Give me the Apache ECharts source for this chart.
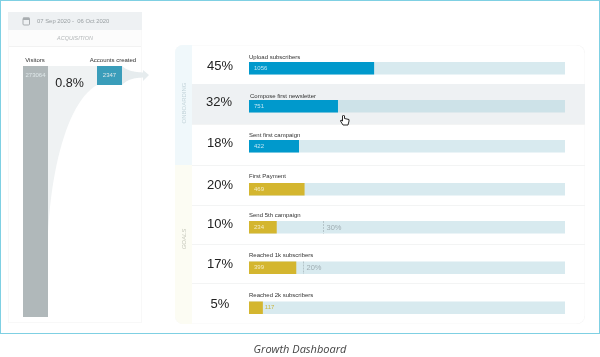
<!DOCTYPE html>
<html>
<head>
<meta charset="utf-8">
<style>html,body{margin:0;padding:0;background:#fff}#chart{width:600px;height:357px}</style>
<script src="https://cdn.jsdelivr.net/npm/echarts@6/dist/echarts.min.js"></script>
</head>
<body>
<div id="chart"></div>
<script>
// funnel on the left
const funnelNames = ['Visitors', 'Accounts created'];
const funnelValues = [273064, 2347];
const conversion = '0.8%';

// rows on the right
const stepNames = ['Upload subscribers', 'Compose first newsletter', 'Sent first campaign', 'First Payment', 'Send 5th campaign', 'Reached 1k subscribers', 'Reached 2k subscribers'];
const stepValues = [1056, 751, 422, 469, 234, 399, 117];
const stepPercents = ['45%', '32%', '18%', '20%', '10%', '17%', '5%'];
const stepTargets = [null, null, null, null, '30%', '20%', null];
const trackMax = 2667;

// layout
const barTops = [62, 100, 140, 183, 221, 261.5, 301.5];
const nameTops = [57, 96, 135, 176, 215, 255, 295];
const percentTops = [66, 102, 143, 185, 224, 264, 304];
const rowLines = [124, 165, 205, 244, 283];
const colorBlue = '#0099cc';
const colorGold = '#d4b62f';

const font = 'Liberation Sans, Arial, sans-serif';
const grids = [], xAxes = [], yAxes = [], series = [], graphics = [];

function addBar(left, top, width, height, value, color, extra) {
  const i = grids.length;
  grids.push({left: left, top: top, width: width, height: height});
  xAxes.push(Object.assign({gridIndex: i}, extra.xAxis));
  yAxes.push(Object.assign({gridIndex: i}, extra.yAxis));
  series.push(Object.assign({
    type: 'bar', xAxisIndex: i, yAxisIndex: i, data: [value], silent: true,
    barWidth: '100%', itemStyle: {color: color}
  }, extra.series));
}

function rect(x, y, w, h, fill, r, z) {
  graphics.push({type: 'rect', z: z || 0, shape: {x: x, y: y, width: w, height: h, r: r || 0}, style: {fill: fill}});
}
function line(x1, y1, x2, y2, stroke, dash) {
  graphics.push({type: 'line', z: 1, shape: {x1: x1, y1: y1, x2: x2, y2: y2}, style: {stroke: stroke, lineWidth: 1, lineDash: dash}});
}
function text(x, y, str, size, fill, opt) {
  graphics.push({type: 'text', z: 5, x: x, y: y, rotation: (opt && opt.rotation) || 0, originX: 0, originY: 0, style: Object.assign({
    text: str, fontSize: size, fill: fill, fontFamily: font, textAlign: 'left', textVerticalAlign: 'middle'
  }, opt && opt.style)});
}
function poly(points, style, z) {
  graphics.push({type: 'polygon', z: z || 1, shape: {points: points}, style: style});
}
// points along a cubic curve, for the funnel outlines
function curve(p0, p1, p2, p3) {
  const pts = [];
  for (let k = 0; k <= 24; k++) {
    const t = k / 24, u = 1 - t;
    pts.push([
      u * u * u * p0[0] + 3 * u * u * t * p1[0] + 3 * u * t * t * p2[0] + t * t * t * p3[0],
      u * u * u * p0[1] + 3 * u * u * t * p1[1] + 3 * u * t * t * p2[1] + t * t * t * p3[1]
    ]);
  }
  return pts;
}

// frame
rect(0, 0, 600, 334, '#7fd0e3');
rect(1, 1, 598, 332, '#ffffff');

// left panel
rect(8, 12, 134, 311, '#f8f8f8');
rect(9, 13, 132, 309, '#ffffff');
rect(8, 12, 134, 18, '#eef1f3');
line(9, 46.5, 141, 46.5, '#f2f2f2');
rect(9, 30, 132, 16, '#fcfcfc');
text(37, 21, '07 Sep 2020 -  06 Oct 2020', 5.9, '#9aa0a3');
text(75, 38.5, 'ACQUISITION', 5.5, '#b4b8ba', {style: {textAlign: 'center', fontStyle: 'italic'}});
// calendar icon
graphics.push({type: 'rect', z: 2, shape: {x: 23, y: 18, width: 6.5, height: 7, r: 1}, style: {fill: '#eef1f3', stroke: '#a8adb0', lineWidth: 1}});
rect(23, 17.5, 6.5, 2.5, '#a8adb0', 0, 3);

// funnel shapes
poly([[48, 66], [97, 66]].concat(curve([97, 85], [70, 100], [52, 160], [48, 232])), {fill: '#eff2f3'});
poly(curve([122, 66], [128, 71], [134, 72], [143, 72.5]).concat([[143, 70], [149, 75], [143, 81], [143, 77.5]], curve([143, 77.5], [134, 78], [128, 79], [122, 85])), {fill: '#e6ecee'});
text(35, 60.5, funnelNames[0], 6, '#333', {style: {textAlign: 'center'}});
text(113, 60.5, funnelNames[1], 6, '#333', {style: {textAlign: 'center'}});
text(69.5, 83.5, conversion, 12.5, '#222', {style: {textAlign: 'center'}});

// funnel bars, each on its own scale like the original tiles
[[23, 66, 25, 251, '#b0b8ba'], [97, 66, 25, 19, '#3a9dba']].forEach(function (b, i) {
  addBar(b[0], b[1], b[2], b[3], funnelValues[i], b[4], {
    xAxis: {type: 'category', show: false, data: [funnelNames[i]]},
    yAxis: {type: 'value', show: false, inverse: true, min: 0, max: funnelValues[i]},
    series: {label: {show: true, position: 'insideTop', distance: 6, color: '#dfe8ea', fontSize: 6, fontFamily: font}}
  });
});

// right panel
rect(175, 45, 410, 279, '#f6f6f6', 8);
rect(175.5, 45.5, 409, 278, '#ffffff', 8);
rect(175, 45, 17, 120, '#f0f8fb', [8, 0, 0, 0], 1);
rect(175, 165, 17, 159, '#fcfcf3', [0, 0, 0, 8], 1);
rect(192, 84, 393, 40, '#eef1f3', 0, 1);
rowLines.forEach(function (y) { line(192, y + 0.5, 585, y + 0.5, '#f3f4f4'); });
text(184, 103, 'ONBOARDING', 6, '#c3d4da', {rotation: Math.PI / 2, style: {textAlign: 'center'}});
text(184, 239, 'GOALS', 6, '#c6c8bb', {rotation: Math.PI / 2, style: {textAlign: 'center', fontStyle: 'italic'}});

stepNames.forEach(function (name, i) {
  const top = barTops[i];
  const onboarding = i < 3;
  text(i === 1 ? 250 : 249, nameTops[i], name, 6, '#333');
  text(i === 1 ? 219 : 220, percentTops[i], stepPercents[i], 13, '#222', {style: {textAlign: 'center'}});
  const small = stepValues[i] < 150;
  addBar(249, top, 316, 12.5, stepValues[i], onboarding ? colorBlue : colorGold, {
    xAxis: {type: 'value', show: false, min: 0, max: trackMax},
    yAxis: {type: 'category', show: false, data: [name]},
    series: {
      showBackground: true,
      backgroundStyle: {color: i === 1 ? '#cde2e8' : '#d8eaef'},
      label: small
        ? {show: true, position: 'right', distance: 2, color: '#c9b53f', fontSize: 6, fontFamily: font}
        : {show: true, position: 'insideLeft', distance: 5, color: onboarding ? '#bfe6f3' : '#f3ecc6', fontSize: 6, fontFamily: font}
    }
  });
  if (stepTargets[i]) {
    const tx = i === 4 ? 323.5 : 303.5;
    line(tx, top, tx, top + 12.5, '#b5c4c9', [2, 1]);
    graphics[graphics.length - 1].z = 6;
    text(tx + 3, top + 6.5, stepTargets[i], 7.5, '#9fadb2');
  }
});

// cursor
poly([[342.5, 116], [342.5, 121], [341, 120], [340.5, 121], [343, 125], [348, 125], [349, 121], [349, 119.5], [344.5, 118.5], [344.5, 116], [343.5, 115]], {fill: '#fff', stroke: '#111', lineWidth: 0.9}, 6);

// caption
text(300, 349.5, 'Growth Dashboard', 11, '#444', {style: {textAlign: 'center', fontStyle: 'italic', fontFamily: 'Open Sans'}});

const chart = echarts.init(document.getElementById('chart'), null, {renderer: 'canvas'});
chart.setOption({
  animation: false,
  tooltip: {show: false},
  grid: grids,
  xAxis: xAxes,
  yAxis: yAxes,
  series: series,
  graphic: {elements: graphics}
});
</script>
</body>
</html>
